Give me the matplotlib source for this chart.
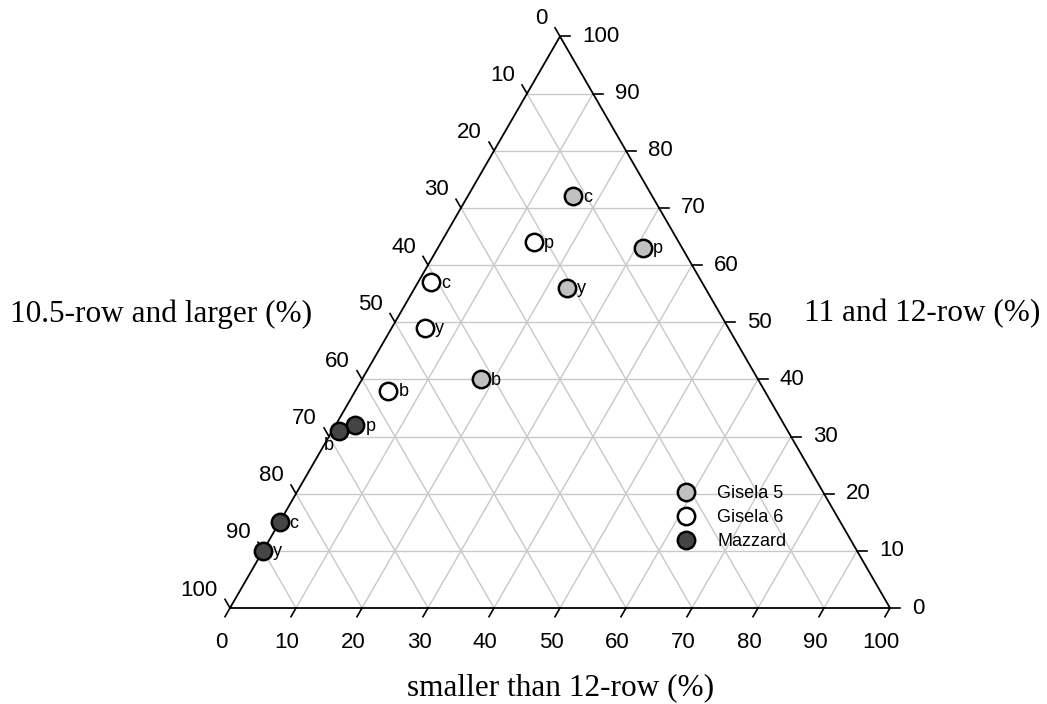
import numpy as np
import matplotlib
matplotlib.use("Agg")
import matplotlib.pyplot as plt
from matplotlib.lines import Line2D

plt.rcParams['font.family'] = ['Liberation Sans', 'DejaVu Sans']

# ternary values: bottom = smaller than 12-row, right = 11 and 12-row, left = 10.5-row and larger
series = ['Gisela 5', 'Gisela 6', 'Mazzard']
labels = ['c', 'p', 'y', 'b']
bottom_vals = {
    'Gisela 5': [16, 31, 23, 18],
    'Gisela 6': [2, 14, 5, 5],
    'Mazzard': [0, 3, 0, 1],
}
right_vals = {
    'Gisela 5': [72, 63, 56, 40],
    'Gisela 6': [57, 64, 49, 38],
    'Mazzard': [15, 32, 10, 31],
}
colors = {'Gisela 5': '#c0c0c0', 'Gisela 6': '#ffffff', 'Mazzard': '#454545'}
ticks = list(range(0, 101, 10))

H = np.sqrt(3) / 2


def cart(b, r):
    b = np.asarray(b, dtype=float) / 100.0
    r = np.asarray(r, dtype=float) / 100.0
    return b + r / 2, r * H


W, HH = 1047, 704
fig = plt.figure(figsize=(W / 100, HH / 100), dpi=100)
scale = 660.0
x0, y0 = 230.0, HH - 608.0
ax = fig.add_axes([0, 0, 1, 1])
ax.set_xlim(-x0 / scale, (W - x0) / scale)
ax.set_ylim(-y0 / scale, (HH - y0) / scale)
ax.axis('off')

grid_c = '#c8c8c8'
for t in ticks[1:-1]:
    # constant right (horizontal)
    xa, ya = cart([0, 100 - t], [t, t])
    ax.plot(xa, ya, color=grid_c, lw=1.0, zorder=1)
    # constant bottom (parallel to left edge)
    xa, ya = cart([t, t], [0, 100 - t])
    ax.plot(xa, ya, color=grid_c, lw=1.0, zorder=1)
    # constant left (parallel to right edge)
    xa, ya = cart([100 - t, 0], [0, 100 - t])
    ax.plot(xa, ya, color=grid_c, lw=1.0, zorder=1)

# triangle outline
xa, ya = cart([0, 100, 0, 0], [0, 0, 100, 0])
ax.plot(xa, ya, color='black', lw=1.3, zorder=2, solid_joinstyle='miter')

tl = 10 / scale
lab_size = 16
for t in ticks:
    # bottom axis
    bx, by = cart(t, 0)
    ax.plot([bx, bx - tl * 0.5], [by, by - tl * H], color='black', lw=1.2, zorder=2)
    ax.annotate(str(t), (bx, by), xytext=(-9, -34), textcoords='offset pixels',
                ha='center', va='center', fontsize=lab_size)
    # right axis
    rx, ry = cart(100 - t, t)
    ax.plot([rx, rx + tl], [ry, ry], color='black', lw=1.2, zorder=2)
    ax.annotate(str(t), (rx, ry), xytext=(22, 0), textcoords='offset pixels',
                ha='left', va='center', fontsize=lab_size)
    # left axis
    lx, ly = cart(0, 100 - t)
    ax.plot([lx, lx - tl * 0.5], [ly, ly + tl * H], color='black', lw=1.2, zorder=2)
    ax.annotate(str(t), (lx, ly), xytext=(-12, 18), textcoords='offset pixels',
                ha='right', va='center', fontsize=lab_size)

serif = ['Liberation Serif', 'DejaVu Serif']
fig.text(561 / W, 1 - 688 / HH, 'smaller than 12-row (%)', ha='center', va='center',
         fontsize=22.5, family=serif)
fig.text(161 / W, 1 - 314 / HH, '10.5-row and larger (%)', ha='center', va='center',
         fontsize=22.5, family=serif)
fig.text(922 / W, 1 - 314 / HH, '11 and 12-row (%)', ha='center', va='center',
         fontsize=22.5, family=serif)

ms, mew = 12.5, 1.8
for s in series:
    px, py = cart(bottom_vals[s], right_vals[s])
    ax.plot(px, py, 'o', ms=ms, mfc=colors[s], mec='black', mew=mew, ls='none', zorder=3)
    for x, y, lab in zip(px, py, labels):
        off = (10, -1)
        ha = 'left'
        if s == 'Mazzard' and lab == 'b':
            off = (-10, -15)
            ha = 'center'
        ax.annotate(lab, (x, y), xytext=off, textcoords='offset pixels',
                    ha=ha, va='center', fontsize=13)

handles = [Line2D([], [], marker='o', ls='none', ms=ms, mfc=colors[s], mec='black', mew=mew)
           for s in series]
ax.legend(handles, series, loc='upper left', bbox_to_anchor=(675 / W, 1 - 485 / HH),
          frameon=False, fontsize=13, handletextpad=1.15, labelspacing=0.4,
          handlelength=1.2, borderaxespad=0, borderpad=0)

fig.savefig('out.png', dpi=100)
